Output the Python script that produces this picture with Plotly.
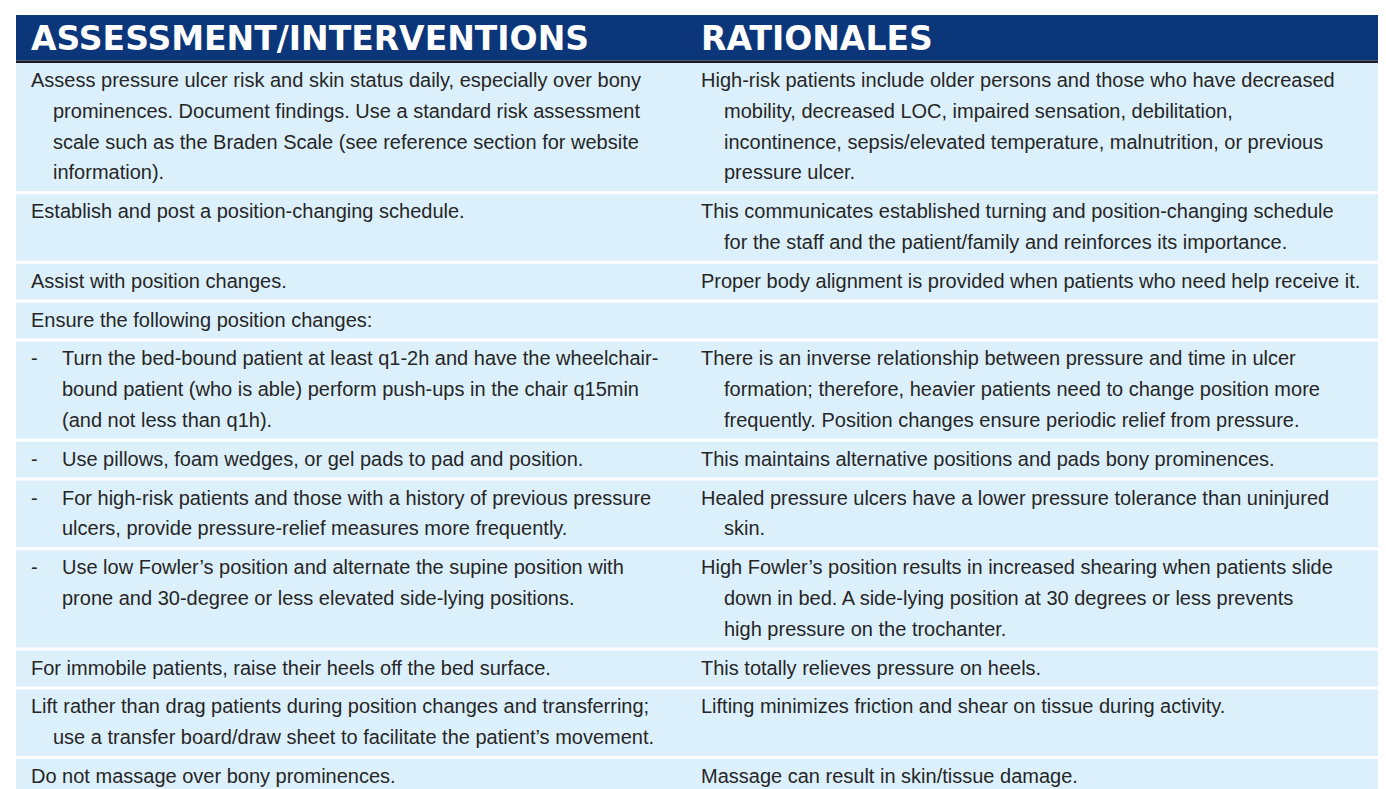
import plotly.graph_objects as go

# ---------------- data ----------------
header_left = "ASSESSMENT/INTERVENTIONS"
header_right = "RATIONALES"

left_lines = [
    ["Assess pressure ulcer risk and skin status daily, especially over bony",
     "prominences. Document findings. Use a standard risk assessment",
     "scale such as the Braden Scale (see reference section for website",
     "information)."],
    ["Establish and post a position-changing schedule."],
    ["Assist with position changes."],
    ["Ensure the following position changes:"],
    ["Turn the bed-bound patient at least q1-2h and have the wheelchair-",
     "bound patient (who is able) perform push-ups in the chair q15min",
     "(and not less than q1h)."],
    ["Use pillows, foam wedges, or gel pads to pad and position."],
    ["For high-risk patients and those with a history of previous pressure",
     "ulcers, provide pressure-relief measures more frequently."],
    ["Use low Fowler\u2019s position and alternate the supine position with",
     "prone and 30-degree or less elevated side-lying positions."],
    ["For immobile patients, raise their heels off the bed surface."],
    ["Lift rather than drag patients during position changes and transferring;",
     "use a transfer board/draw sheet to facilitate the patient\u2019s movement."],
    ["Do not massage over bony prominences."],
]

right_lines = [
    ["High-risk patients include older persons and those who have decreased",
     "mobility, decreased LOC, impaired sensation, debilitation,",
     "incontinence, sepsis/elevated temperature, malnutrition, or previous",
     "pressure ulcer."],
    ["This communicates established turning and position-changing schedule",
     "for the staff and the patient/family and reinforces its importance."],
    ["Proper body alignment is provided when patients who need help receive it."],
    [],
    ["There is an inverse relationship between pressure and time in ulcer",
     "formation; therefore, heavier patients need to change position more",
     "frequently. Position changes ensure periodic relief from pressure."],
    ["This maintains alternative positions and pads bony prominences."],
    ["Healed pressure ulcers have a lower pressure tolerance than uninjured",
     "skin."],
    ["High Fowler\u2019s position results in increased shearing when patients slide",
     "down in bed. A side-lying position at 30 degrees or less prevents",
     "high pressure on the trochanter."],
    ["This totally relieves pressure on heels."],
    ["Lifting minimizes friction and shear on tissue during activity."],
    ["Massage can result in skin/tissue damage."],
]

bullet_rows = [False, False, False, False, True, True, True, True, False, False, False]

# ---------------- style / layout ----------------
W, H = 1386, 789
TABLE_X0, TABLE_X1 = 8, 1386
HEAD_Y0, HEAD_Y1 = 7, 52.5
RULE_Y1 = 55
LINE_H = 30.8
ROW_PAD = 5.0
GAP = 3
LEFT_X = 21
RIGHT_X = 691
INDENT = 22
BULLET_TEXT_X = 52

NAVY = "#0b3679"
ROW_BG = "#dcf0fc"
TEXT = "#262626"
BODY_FONT = "Liberation Sans, Arial, Helvetica, sans-serif"
HEAD_FONT = "DejaVu Sans, Verdana, sans-serif"

fig = go.Figure()
fig.add_trace(go.Scatter(x=[0, W], y=[0, H], mode="markers",
                         marker=dict(opacity=0), hoverinfo="skip", showlegend=False))

shapes = []
annotations = []

# header
shapes.append(dict(type="rect", xref="x", yref="y", x0=TABLE_X0, x1=TABLE_X1,
                   y0=HEAD_Y0, y1=HEAD_Y1, fillcolor=NAVY, line=dict(width=0), layer="below"))
shapes.append(dict(type="rect", xref="x", yref="y", x0=TABLE_X0, x1=TABLE_X1,
                   y0=HEAD_Y1, y1=RULE_Y1, fillcolor="#1c1c28", line=dict(width=0), layer="below"))
for txt, xx in [(header_left, LEFT_X), (header_right, RIGHT_X)]:
    annotations.append(dict(x=xx, y=(HEAD_Y0 + HEAD_Y1) / 2 + 1, xref="x", yref="y",
                            text="<b>" + txt + "</b>", showarrow=False,
                            xanchor="left", yanchor="middle",
                            font=dict(family=HEAD_FONT, size=33, color="white")))

def body_ann(x, y, text):
    annotations.append(dict(x=x, y=y, xref="x", yref="y", text=text, showarrow=False,
                            xanchor="left", yanchor="middle",
                            font=dict(family=BODY_FONT, size=20, color=TEXT)))

y = RULE_Y1
for i in range(len(left_lines)):
    L = left_lines[i]
    R = right_lines[i]
    n = max(len(L), len(R), 1)
    h = LINE_H * n + ROW_PAD
    shapes.append(dict(type="rect", xref="x", yref="y", x0=TABLE_X0, x1=TABLE_X1,
                       y0=y, y1=y + h, fillcolor=ROW_BG, line=dict(width=0), layer="below"))
    first_y = y + ROW_PAD / 2 + LINE_H / 2 - 1
    for k, line in enumerate(L):
        ly = first_y + k * LINE_H
        if bullet_rows[i]:
            if k == 0:
                body_ann(LEFT_X, ly, "-")
            body_ann(BULLET_TEXT_X, ly, line)
        else:
            body_ann(LEFT_X if k == 0 else LEFT_X + INDENT, ly, line)
    for k, line in enumerate(R):
        ly = first_y + k * LINE_H
        body_ann(RIGHT_X if k == 0 else RIGHT_X + INDENT + 1, ly, line)
    y = y + h + GAP

fig.update_layout(
    width=W, height=H,
    margin=dict(l=0, r=0, t=0, b=0),
    paper_bgcolor="white", plot_bgcolor="white",
    xaxis=dict(range=[0, W], visible=False, fixedrange=True),
    yaxis=dict(range=[H, 0], visible=False, fixedrange=True),
    shapes=shapes, annotations=annotations, showlegend=False,
)

fig.write_html("out.html")
